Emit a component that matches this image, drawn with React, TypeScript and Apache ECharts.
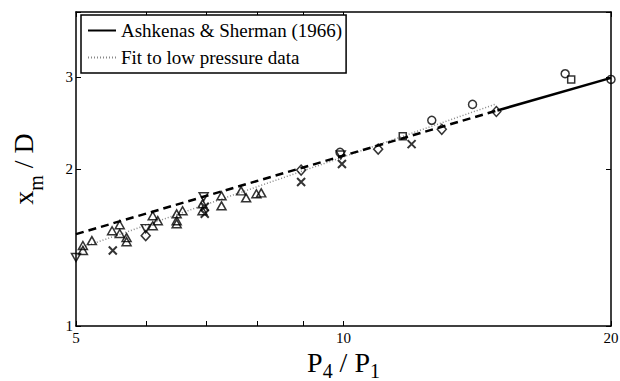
import { useEffect, useRef } from 'react';
import * as echarts from 'echarts';

// axis ranges and ticks (raw units, plotted on log10 scales)
const xRange = [5, 20];
const yRange = [1, 4];
const xTickValues = [5, 6, 7, 8, 9, 10, 20];
const xLabelValues = [5, 10, 20];
const yTickValues = [1, 2, 3, 4];
const yLabelValues = [1, 2, 3];

// lines [P4/P1, xm/D]
const ashkenasSherman = [[14.9, 2.59], [20, 2.99]];
const ashkenasExtension = [[5, 1.5], [14.9, 2.59]];
const lowPressureFit = [[5.05, 1.41], [14.8, 2.66]];

// measured points [P4/P1, xm/D]
const triangleUp = [
  [5.09, 1.427], [5.09, 1.396], [5.21, 1.458], [5.49, 1.523], [5.6, 1.564],
  [5.6, 1.504], [5.7, 1.477], [5.7, 1.451], [6.1, 1.627], [6.1, 1.557],
  [6.18, 1.592], [6.49, 1.641], [6.49, 1.592], [6.49, 1.571], [6.59, 1.663],
  [6.94, 1.715], [6.94, 1.663], [7.29, 1.777], [7.29, 1.7], [7.67, 1.816],
  [7.77, 1.761], [7.98, 1.793], [8.08, 1.8],
];
const triangleDown = [[5.0, 1.353], [5.99, 1.537], [6.96, 1.769], [9.93, 2.128]];
const crosses = [[5.5, 1.396], [6.98, 1.693], [6.98, 1.641], [8.96, 1.889], [9.96, 2.044], [11.93, 2.232]];
const diamonds = [[5.99, 1.49], [8.96, 1.991], [10.94, 2.183], [12.9, 2.383], [14.86, 2.578]];
const circles = [[9.91, 2.153], [12.57, 2.48], [13.97, 2.66], [17.76, 3.046], [20, 2.97]];
const squares = [[11.66, 2.311], [18.04, 2.968]];

const FONT = 'Liberation Serif';
const lg = (v: number) => Math.log10(v);
const toLog = (pts: number[][]) => pts.map((p) => [lg(p[0]), lg(p[1])]);
const fmt = (v: number) => String(Math.round(Math.pow(10, v)));

const hollow = { color: 'rgba(0,0,0,0)', borderColor: '#000', borderWidth: 1.5 };

export default function App() {
  const ref = useRef<HTMLDivElement>(null);
  useEffect(() => {
    if (!ref.current) return;
    const chart = echarts.init(ref.current, undefined, { renderer: 'svg' });
    const richX = {
      m: { fontFamily: FONT, fontSize: 28, color: '#000', verticalAlign: 'top' },
      s: { fontFamily: FONT, fontSize: 20, color: '#000', verticalAlign: 'top', padding: [13, 0, 0, 0] },
    };
    const richY = {
      m: { fontFamily: FONT, fontSize: 28, color: '#000', verticalAlign: 'top' },
      s: { fontFamily: FONT, fontSize: 20, color: '#000', verticalAlign: 'top', padding: [17, 0, 0, 0] },
    };
    const baseX = {
      type: 'value',
      min: lg(xRange[0]),
      max: lg(xRange[1]),
      axisLine: { show: true, onZero: false, lineStyle: { color: '#000', width: 1.5 } },
      axisTick: { show: true, inside: true, length: 5, customValues: xTickValues.map(lg), lineStyle: { color: '#000', width: 1 } },
      splitLine: { show: false },
    };
    const baseY = {
      type: 'value',
      min: lg(yRange[0]),
      max: lg(yRange[1]),
      axisLine: { show: true, onZero: false, lineStyle: { color: '#000', width: 1.5 } },
      axisTick: { show: true, inside: true, length: 5, customValues: yTickValues.map(lg), lineStyle: { color: '#000', width: 1 } },
      splitLine: { show: false },
    };
    chart.setOption({
      animation: false,
      backgroundColor: '#fff',
      grid: { left: 76, right: 9, top: 12, bottom: 55, containLabel: false, outerBoundsMode: 'none' },
      legend: {
        data: ['Ashkenas & Sherman (1966)', 'Fit to low pressure data'],
        orient: 'vertical',
        left: 81,
        top: 15,
        itemWidth: 28,
        itemHeight: 12,
        itemGap: 4,
        padding: [4, 4, 4, 6],
        borderColor: '#000',
        borderWidth: 1.5,
        backgroundColor: '#fff',
        selectedMode: false,
        itemStyle: { opacity: 0, borderWidth: 0 },
        textStyle: { fontFamily: FONT, fontSize: 19, color: '#000', lineHeight: 23 },
      },
      xAxis: [
        {
          ...baseX,
          position: 'bottom',
          axisLabel: {
            show: true, customValues: xLabelValues.map(lg), formatter: fmt, margin: 5, lineHeight: 13,
            fontFamily: FONT, fontSize: 15, color: '#000',
          },
          name: '{m|P}{s|4}{m| / P}{s|1}',
          nameLocation: 'middle',
          nameGap: 22,
          nameMoveOverlap: false,
          nameTextStyle: { rich: richX },
        },
        { ...baseX, position: 'top', axisLabel: { show: false } },
      ],
      yAxis: [
        {
          ...baseY,
          position: 'left',
          axisLabel: {
            show: true, customValues: yLabelValues.map(lg), formatter: fmt, margin: 3,
            fontFamily: FONT, fontSize: 15, color: '#000',
          },
          name: '{m|x}{s|m}{m| / D}',
          nameLocation: 'middle',
          nameGap: 30,
          nameMoveOverlap: false,
          nameTextStyle: { rich: richY },
        },
        { ...baseY, position: 'right', axisLabel: { show: false } },
      ],
      series: [
        {
          name: 'Ashkenas & Sherman (1966)', type: 'line', data: toLog(ashkenasSherman),
          symbol: 'none', lineStyle: { color: '#000', width: 2.5, type: 'solid' }, itemStyle: { color: '#000' }, z: 3,
        },
        {
          name: 'extension', type: 'line', data: toLog(ashkenasExtension),
          symbol: 'none', lineStyle: { color: '#000', width: 2.5, type: [8, 5] }, itemStyle: { color: '#000' }, z: 3,
        },
        {
          name: 'Fit to low pressure data', type: 'line', data: toLog(lowPressureFit),
          symbol: 'none', lineStyle: { color: '#888', width: 1.5, type: [1, 2] }, itemStyle: { color: '#888' }, z: 2,
        },
        { name: 'tri-up', type: 'scatter', data: toLog(triangleUp), symbol: 'triangle', symbolSize: [9, 8], itemStyle: hollow, z: 4 },
        { name: 'tri-down', type: 'scatter', data: toLog(triangleDown), symbol: 'triangle', symbolRotate: 180, symbolSize: [9, 8], itemStyle: hollow, z: 4 },
        { name: 'cross', type: 'scatter', data: toLog(crosses), symbol: 'path://M0 0L10 10M10 0L0 10', symbolSize: 8, itemStyle: { ...hollow, borderWidth: 2 }, z: 4 },
        { name: 'diamond', type: 'scatter', data: toLog(diamonds), symbol: 'diamond', symbolSize: [9, 10], itemStyle: hollow, z: 4 },
        { name: 'circle', type: 'scatter', data: toLog(circles), symbol: 'circle', symbolSize: 8, itemStyle: hollow, z: 4 },
        { name: 'square', type: 'scatter', data: toLog(squares), symbol: 'rect', symbolSize: 7, itemStyle: hollow, z: 4 },
      ],
    });
    return () => chart.dispose();
  }, []);
  return <div ref={ref} style={{ position: 'fixed', left: 0, top: 0, width: 620, height: 381 }} />;
}
